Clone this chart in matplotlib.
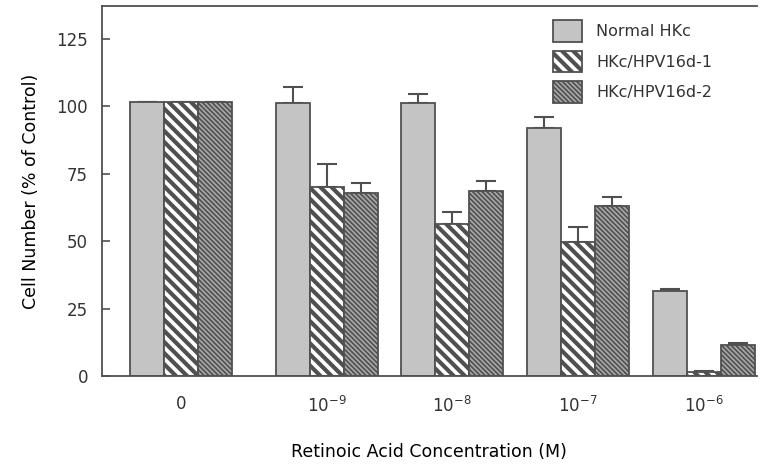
import numpy as np
import matplotlib
matplotlib.use("Agg")
import matplotlib.pyplot as plt

# data
conc_labels = ["0", r"$10^{-9}$", r"$10^{-8}$", r"$10^{-7}$", r"$10^{-6}$"]
series = ["Normal HKc", "HKc/HPV16d-1", "HKc/HPV16d-2"]
normal = [101.5, 101.0, 101.0, 91.7, 31.6]
normal_err = [0, 6.0, 3.5, 4.1, 0.5]
hpv1 = [101.5, 69.9, 56.3, 49.7, 1.6]
hpv1_err = [0, 8.5, 4.3, 5.5, 0.3]
hpv2 = [101.5, 67.9, 68.5, 63.0, 11.5]
hpv2_err = [0, 3.5, 3.6, 3.4, 0.8]

plt.rcParams["font.family"] = "DejaVu Sans"
plt.rcParams["text.color"] = "#333333"

fig = plt.figure(figsize=(7.6, 4.7), dpi=100)
ax = fig.add_axes([0.134, 0.2, 0.862, 0.787])

pos = np.array([0, 1.163, 2.159, 3.163, 4.167])
w = 0.27
edge = "#505050"

styles = [
    dict(color="#c4c4c4", hatch=None, hlw=1.0),
    dict(color="white", hatch="\\" * 3, hlw=3.0),
    dict(color="#a8a8a8", hatch="\\" * 7, hlw=1.2),
]
vals = [normal, hpv1, hpv2]
errs = [normal_err, hpv1_err, hpv2_err]

for i, (v, e, st, name) in enumerate(zip(vals, errs, styles, series)):
    x = pos + (i - 1) * w
    # only upper error bars
    ax.errorbar(x, v, yerr=[np.zeros(len(e)), e], fmt="none", ecolor=edge,
                elinewidth=1.5, capsize=7, capthick=1.5, zorder=1)
    bars = ax.bar(x, v, width=w, color=st["color"], edgecolor=edge,
                  linewidth=1.3, hatch=st["hatch"], label=name, zorder=2)
    for b in bars:
        if hasattr(b, "set_hatch_linewidth"):
            b.set_hatch_linewidth(st["hlw"])

ax.set_xlim(-0.63, 4.59)
ax.set_ylim(0, 137)
ax.set_yticks([0, 25, 50, 75, 100, 125])
ax.set_xticks(pos)
ax.set_xticklabels(conc_labels)
ax.tick_params(axis="y", direction="in", length=6, width=1.2, color=edge,
               labelsize=12, labelcolor="#333333", pad=10)
ax.tick_params(axis="x", length=0, labelsize=12, labelcolor="#333333", pad=14)

for s in ["left", "bottom", "top"]:
    ax.spines[s].set_color(edge)
    ax.spines[s].set_linewidth(1.3)
ax.spines["right"].set_visible(False)

ax.set_ylabel("Cell Number (% of Control)", fontsize=12.5, labelpad=12)
ax.set_xlabel("Retinoic Acid Concentration (M)", fontsize=12.5, labelpad=20)

leg = ax.legend(loc="upper left", bbox_to_anchor=(0.667, 1.0), frameon=False,
                fontsize=11.5, handlelength=1.8, handleheight=1.7,
                handletextpad=0.9, labelspacing=0.55)
for h, st in zip(leg.legend_handles, styles):
    h.set_edgecolor(edge)
    if hasattr(h, "set_hatch_linewidth"):
        h.set_hatch_linewidth(st["hlw"])

fig.savefig("out.png", dpi=100)
